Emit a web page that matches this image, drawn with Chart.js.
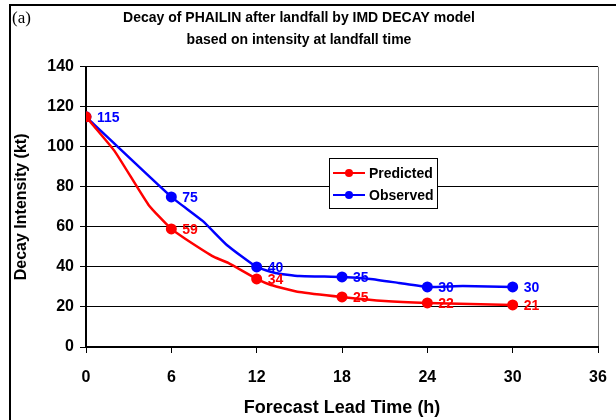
<!DOCTYPE html>
<html>
<head>
<meta charset="utf-8">
<script src="https://cdn.jsdelivr.net/npm/chart.js@4/dist/chart.umd.min.js"></script>
<style>
html, body { margin: 0; padding: 0; background: #fff; }
#wrap { width: 616px; height: 420px; }
</style>
</head>
<body>
<div id="wrap"><canvas id="decay_chart" width="616" height="420"></canvas></div>
<script>
// values at the 6-hourly marks (markers + labels)
var leadHours = [0, 6, 12, 18, 24, 30];
var predictedAtLead = [115, 59, 34, 25, 22, 21];
var observedAtLead = [115, 75, 40, 35, 30, 30];

// where the drawn curves bend between the marks
var predictedBendHours = [2, 4.4, 7, 9, 10, 13, 15, 21, 27];
var predictedBendValues = [98, 71, 54, 45, 42, 31, 27.5, 23, 21.5];
var observedBendHours = [8.2, 9.9, 13.3, 15, 20, 22, 26.5];
var observedBendValues = [63, 51, 37, 35.5, 34, 32, 30.5];

var xTicks = [0, 6, 12, 18, 24, 30, 36];
var seriesNames = ["Predicted", "Observed"];
var seriesColors = ["#ff0000", "#0000ff"];

var FONT = "'Liberation Sans', Arial, sans-serif";

function buildCurve(hours, values, bendHours, bendValues) {
    var pts = [];
    for (var i = 0; i < hours.length; i++) {
        pts.push({ x: hours[i], y: values[i], mark: true });
    }
    for (var j = 0; j < bendHours.length; j++) {
        pts.push({ x: bendHours[j], y: bendValues[j], mark: false });
    }
    pts.sort(function (a, b) { return a.x - b.x; });
    return pts;
}

var predictedCurve = buildCurve(leadHours, predictedAtLead, predictedBendHours, predictedBendValues);
var observedCurve = buildCurve(leadHours, observedAtLead, observedBendHours, observedBendValues);

// outer frame of the figure (cut off at right and bottom)
var framePlugin = {
    id: 'frame',
    beforeDraw: function (chart) {
        var c = chart.ctx;
        c.save();
        c.fillStyle = '#fff';
        c.fillRect(0, 0, chart.width, chart.height);
        c.strokeStyle = '#000';
        c.lineWidth = 2;
        c.beginPath();
        c.moveTo(10, 420);
        c.lineTo(10, 5);
        c.lineTo(616, 5);
        c.stroke();
        c.font = "17px 'Liberation Serif', 'Times New Roman', serif";
        c.fillStyle = '#000';
        c.textBaseline = 'middle';
        c.fillText('(a)', 12, 19);
        c.restore();
    }
};

// value labels next to each marker
var valueLabelPlugin = {
    id: 'valueLabels',
    afterDatasetsDraw: function (chart) {
        var c = chart.ctx;
        var xs = chart.scales.x, ys = chart.scales.y;
        var lists = [predictedAtLead, observedAtLead];
        c.save();
        c.font = "bold 14px " + FONT;
        c.textBaseline = 'middle';
        for (var d = 0; d < lists.length; d++) {
            for (var i = 0; i < leadHours.length; i++) {
                // predicted 115 sits under the observed one
                if (d === 0 && lists[0][i] === lists[1][i]) continue;
                c.fillStyle = seriesColors[d];
                c.fillText(String(lists[d][i]), xs.getPixelForValue(leadHours[i]) + 11, ys.getPixelForValue(lists[d][i]) + 1);
            }
        }
        c.restore();
    }
};

// legend box inside the plot area
var boxLegendPlugin = {
    id: 'boxLegend',
    afterDraw: function (chart) {
        var c = chart.ctx;
        var x0 = 329, y0 = 158, w = 108, h = 50;
        c.save();
        c.fillStyle = '#fff';
        c.fillRect(x0, y0, w, h);
        c.strokeStyle = '#000';
        c.lineWidth = 1;
        c.strokeRect(x0 + 0.5, y0 + 0.5, w, h);
        c.font = "bold 14px " + FONT;
        c.textBaseline = 'middle';
        for (var i = 0; i < seriesNames.length; i++) {
            var yy = y0 + 15 + i * 22;
            c.strokeStyle = seriesColors[i];
            c.lineWidth = 2;
            c.beginPath();
            c.moveTo(x0 + 4, yy);
            c.lineTo(x0 + 36, yy);
            c.stroke();
            c.fillStyle = seriesColors[i];
            c.beginPath();
            c.arc(x0 + 20, yy, 4, 0, Math.PI * 2);
            c.fill();
            c.fillStyle = '#000';
            c.fillText(seriesNames[i], x0 + 40, yy + 1);
        }
        c.restore();
    }
};

function markRadius(ctx) {
    return ctx.raw && ctx.raw.mark ? 5.5 : 0;
}

var ctxDecay = document.getElementById("decay_chart").getContext("2d");

var decay_chart = new Chart(ctxDecay, {
    type: 'line',
    data: {
        datasets: [{
            label: seriesNames[0],
            data: predictedCurve,
            borderColor: seriesColors[0],
            backgroundColor: seriesColors[0],
            borderWidth: 2.5,
            pointRadius: markRadius,
            pointBorderWidth: 0,
            tension: 0.15
        }, {
            label: seriesNames[1],
            data: observedCurve,
            borderColor: seriesColors[1],
            backgroundColor: seriesColors[1],
            borderWidth: 2.5,
            pointRadius: markRadius,
            pointBorderWidth: 0,
            tension: 0.15
        }]
    },
    options: {
        responsive: false,
        animation: false,
        layout: { padding: { left: 0, right: 18, top: 0, bottom: 0 } },
        plugins: {
            legend: { display: false },
            tooltip: { enabled: false },
            title: {
                display: true,
                text: ["Decay of PHAILIN after landfall by IMD DECAY model",
                       "based on intensity at landfall time"],
                color: '#000',
                font: { family: FONT, size: 14, weight: 'bold', lineHeight: 1.6 },
                padding: { top: 7, bottom: 15 }
            }
        },
        scales: {
            x: {
                type: 'linear',
                min: 0,
                max: 36,
                afterBuildTicks: function (scale) {
                    scale.ticks = xTicks.map(function (v) { return { value: v }; });
                },
                afterFit: function (scale) {
                    scale.height = 73;
                    scale.paddingRight = 18;
                },
                ticks: {
                    color: '#000',
                    padding: 15,
                    font: { family: FONT, size: 16, weight: 'bold' }
                },
                grid: {
                    color: function (ctx) { return ctx.tick && ctx.tick.value === 36 ? '#808080' : 'rgba(0,0,0,0)'; },
                    tickColor: '#000',
                    tickLength: 6,
                    lineWidth: 1
                },
                border: { color: '#000', width: 2 },
                title: {
                    display: true,
                    text: 'Forecast Lead Time (h)',
                    color: '#000',
                    font: { family: FONT, size: 18, weight: 'bold' },
                    padding: { top: 0, bottom: 1 }
                }
            },
            y: {
                min: 0,
                max: 140,
                afterFit: function (scale) { scale.width = 86; },
                ticks: {
                    stepSize: 20,
                    color: '#000',
                    padding: 6,
                    font: { family: FONT, size: 16, weight: 'bold' }
                },
                grid: {
                    color: '#000',
                    tickColor: '#000',
                    tickLength: 6,
                    lineWidth: 1
                },
                border: { color: '#000', width: 2 },
                title: {
                    display: true,
                    text: 'Decay Intensity (kt)',
                    color: '#000',
                    font: { family: FONT, size: 16, weight: 'bold' },
                    padding: { top: 12, bottom: 0 }
                }
            }
        }
    },
    plugins: [framePlugin, valueLabelPlugin, boxLegendPlugin]
});
</script>
</body>
</html>
